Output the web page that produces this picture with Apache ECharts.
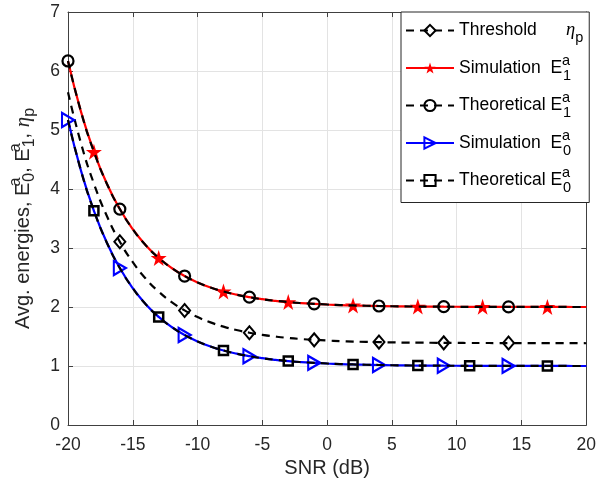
<!DOCTYPE html>
<html>
<head>
<meta charset="utf-8">
<script src="https://cdn.jsdelivr.net/npm/echarts@6/dist/echarts.min.js"></script>
<style>
html,body{margin:0;padding:0;background:#fff;}
#chart{width:599px;height:485px;}
</style>
</head>
<body>
<div id="chart"></div>
<script>
// SNR grid (dB)
var snr = [-20,-19,-18,-17,-16,-15,-14,-13,-12,-11,-10,-9,-8,-7,-6,-5,-4,-3,-2,-1,0,1,2,3,4,5,6,7,8,9,10,11,12,13,14,15,16,17,18,19,20];
// Threshold eta_p
var thrVals = [5.641,4.777,4.091,3.543,3.107,2.760,2.481,2.260,2.083,1.942,1.829,1.739,1.667,1.610,1.564,1.528,1.499,1.475,1.457,1.443,1.432,1.422,1.414,1.409,1.405,1.400,1.397,1.395,1.394,1.392,1.391,1.390,1.390,1.389,1.389,1.388,1.388,1.387,1.387,1.387,1.386];
// Simulation E1
var e1SimVals = [6.170,5.312,4.631,4.090,3.660,3.319,3.047,2.832,2.661,2.525,2.417,2.331,2.263,2.209,2.166,2.132,2.105,2.083,2.066,2.053,2.042,2.033,2.026,2.021,2.017,2.013,2.010,2.008,2.007,2.005,2.004,2.003,2.003,2.002,2.002,2.001,2.001,2.001,2.001,2.000,2.000];
// Theoretical E1
var e1ThVals = [6.170,5.312,4.631,4.090,3.660,3.319,3.047,2.832,2.661,2.525,2.417,2.331,2.263,2.209,2.166,2.132,2.105,2.083,2.066,2.053,2.042,2.033,2.026,2.021,2.017,2.013,2.010,2.008,2.007,2.005,2.004,2.003,2.003,2.002,2.002,2.001,2.001,2.001,2.001,2.000,2.000];
// Simulation E0
var e0SimVals = [5.170,4.312,3.631,3.090,2.660,2.319,2.047,1.832,1.661,1.525,1.417,1.331,1.263,1.209,1.166,1.132,1.105,1.083,1.066,1.053,1.042,1.033,1.026,1.021,1.017,1.013,1.010,1.008,1.007,1.005,1.004,1.003,1.003,1.002,1.002,1.001,1.001,1.001,1.001,1.000,1.000];
// Theoretical E0
var e0ThVals = [5.170,4.312,3.631,3.090,2.660,2.319,2.047,1.832,1.661,1.525,1.417,1.331,1.263,1.209,1.166,1.132,1.105,1.083,1.066,1.053,1.042,1.033,1.026,1.021,1.017,1.013,1.010,1.008,1.007,1.005,1.004,1.003,1.003,1.002,1.002,1.001,1.001,1.001,1.001,1.000,1.000];
// marker positions (SNR values)
var thrMarks = [-16,-11,-6,-1,4,9,14];
var e1SimMarks = [-18,-13,-8,-3,2,7,12,17];
var e1ThMarks = [-20,-16,-11,-6,-1,4,9,14];
var e0SimMarks = [-20,-16,-11,-6,-1,4,9,14];
var e0ThMarks = [-18,-13,-8,-3,2,7,11,17];

function build(vals, marks){
  return snr.map(function(x,i){
    var it = {value:[x, vals[i]]};
    if (marks.indexOf(x) < 0) it.symbol = 'none';
    return it;
  });
}
var starPath = 'path://M50,0 L61.8,35.1 L98.9,35.1 L69.1,56.9 L80.3,91.9 L50,70.3 L19.7,91.9 L30.9,56.9 L1.1,35.1 L38.2,35.1 Z';
var txt = '#262626';
var FONT = 'Liberation Sans, Arial, sans-serif';
var SERIF = 'Liberation Serif, DejaVu Serif, serif';

var names = ['Threshold','SimE1','ThE1','SimE0','ThE0'];
var legendText = {
  'Threshold': '{th|Threshold}{eta|η}{sp|p}',
  'SimE1': '{n|Simulation  E}{sup|a}{sub|1}',
  'ThE1': '{n|Theoretical E}{sup|a}{sub|1}',
  'SimE0': '{n|Simulation  E}{sup|a}{sub|0}',
  'ThE0': '{n|Theoretical E}{sup|a}{sub|0}'
};
function richSet(col, fs, sfs){
  return {
    n:{fontSize:fs, color:col, fontFamily:FONT, lineHeight:30},
    th:{fontSize:fs, color:col, fontFamily:FONT, lineHeight:30, width:107},
    sup:{fontSize:sfs, color:col, fontFamily:FONT, width:1, lineHeight:14, verticalAlign:'top'},
    sub:{fontSize:sfs, color:col, fontFamily:FONT, lineHeight:6, verticalAlign:'bottom'},
    eta:{fontSize:fs+1, color:col, fontFamily:SERIF, fontStyle:'italic', lineHeight:30},
    sp:{fontSize:sfs, color:col, fontFamily:FONT, lineHeight:8, verticalAlign:'bottom'}
  };
}

var chart = echarts.init(document.getElementById('chart'));
var dashStyle = {color:'#000', width:2.2, type:[8,6]};
var axisCol = '#404040';
var option = {
  animation:false,
  backgroundColor:'#fff',
  textStyle:{fontFamily:FONT},
  grid:{left:62, right:11, top:12, bottom:60, containLabel:false},
  xAxis:[{
    type:'value', min:-20, max:20, interval:5,
    name:'SNR (dB)', nameLocation:'middle', nameGap:33,
    nameTextStyle:{color:txt, fontSize:20, fontFamily:FONT},
    axisLine:{show:true, onZero:false, lineStyle:{color:axisCol, width:1}},
    axisTick:{show:true, inside:true, length:5, lineStyle:{color:axisCol}},
    axisLabel:{color:txt, fontSize:17.5, margin:11, fontFamily:FONT},
    splitLine:{show:true, lineStyle:{color:'#e3e3e3', width:1}}
  },{
    type:'value', min:-20, max:20, interval:5, position:'top',
    axisLine:{show:true, onZero:false, lineStyle:{color:axisCol, width:1}},
    axisTick:{show:true, inside:true, length:5, lineStyle:{color:axisCol}},
    axisLabel:{show:false}, splitLine:{show:false}
  }],
  yAxis:[{
    type:'value', min:0, max:7, interval:1,
    name:'{n|Avg. energies, E}{sup|a}{sub|0}{n|, E}{sup|a}{sub|1}{n|, }{eta|η}{sp|p}',
    nameLocation:'middle', nameGap:30,
    nameTextStyle:{color:txt, fontSize:20, fontFamily:FONT, rich:richSet(txt, 20, 16)},
    axisLine:{show:true, onZero:false, lineStyle:{color:axisCol, width:1}},
    axisTick:{show:true, inside:true, length:5, lineStyle:{color:axisCol}},
    axisLabel:{color:txt, fontSize:17.5, margin:8, fontFamily:FONT},
    splitLine:{show:true, lineStyle:{color:'#e3e3e3', width:1}}
  },{
    type:'value', min:0, max:7, interval:1, position:'right',
    axisLine:{show:true, onZero:false, lineStyle:{color:axisCol, width:1}},
    axisTick:{show:true, inside:true, length:5, lineStyle:{color:axisCol}},
    axisLabel:{show:false}, splitLine:{show:false}
  }],
  legend:{
    orient:'vertical', left:401, top:12,
    data:names,
    itemWidth:48, itemHeight:14, itemGap:7.5, padding:[9,6,7,4],
    backgroundColor:'#fff', borderColor:'#262626', borderWidth:1, borderRadius:0,
    formatter:function(n){ return legendText[n]; },
    textStyle:{color:'#000', fontSize:17.5, fontFamily:FONT,
      rich:richSet('#000', 17.5, 14.5)}
  },
  series:[
    {name:'Threshold', type:'line', data:build(thrVals, thrMarks), showAllSymbol:true,
      smooth:0.5,
      symbol:'diamond', symbolSize:[11,13],
      itemStyle:{color:'rgba(255,255,255,0)', borderColor:'#000', borderWidth:2},
      lineStyle:dashStyle, z:2},
    {name:'SimE1', type:'line', data:build(e1SimVals, e1SimMarks), showAllSymbol:true,
      smooth:0.5,
      symbol:starPath, symbolSize:16,
      itemStyle:{color:'#ff0000', borderWidth:0},
      lineStyle:{color:'#ff0000', width:2.2, type:'solid'}, z:3},
    {name:'ThE1', type:'line', data:build(e1ThVals, e1ThMarks), showAllSymbol:true,
      smooth:0.5,
      symbol:'circle', symbolSize:11,
      itemStyle:{color:'rgba(255,255,255,0)', borderColor:'#000', borderWidth:2.2},
      lineStyle:dashStyle, z:4},
    {name:'SimE0', type:'line', data:build(e0SimVals, e0SimMarks), showAllSymbol:true,
      smooth:0.5,
      symbol:'triangle', symbolSize:[14,12], symbolRotate:-90,
      itemStyle:{color:'rgba(255,255,255,0)', borderColor:'#0000ff', borderWidth:2.2},
      lineStyle:{color:'#0000ff', width:2.2, type:'solid'}, z:5},
    {name:'ThE0', type:'line', data:build(e0ThVals, e0ThMarks), showAllSymbol:true,
      smooth:0.5,
      symbol:'rect', symbolSize:9,
      itemStyle:{color:'rgba(255,255,255,0)', borderColor:'#000', borderWidth:2.5},
      lineStyle:dashStyle, z:6}
  ]
};
chart.setOption(option);
</script>
</body>
</html>
